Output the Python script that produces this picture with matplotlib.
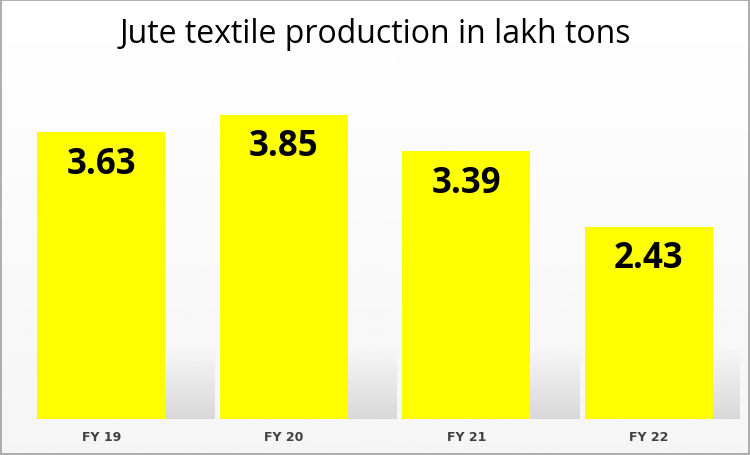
import numpy as np
import matplotlib.pyplot as plt

categories = ['FY 19', 'FY 20', 'FY 21', 'FY 22']
production = [3.63, 3.85, 3.39, 2.43]

fig = plt.figure(figsize=(7.5, 4.56), dpi=100)

# background gradient for the whole figure
bg = fig.add_axes([0, 0, 1, 1], zorder=0)
grad = np.linspace(1.0, 0.96, 256).reshape(-1, 1)
bg.imshow(grad, cmap='gray', vmin=0, vmax=1, aspect='auto', extent=[0, 1, 0, 1])
bg.set_axis_off()
fig.patches.append(plt.Rectangle((0.001, 0.002), 0.997, 0.995, transform=fig.transFigure,
                                 fill=False, edgecolor='#a0a0a0', lw=1.2))

ax = fig.add_axes([10 / 750, 36 / 456, 730 / 750, 340 / 456], zorder=1)
ax.patch.set_alpha(0)
x = np.arange(len(categories))
ax.set_xlim(-0.5, len(categories) - 0.5)
ax.set_ylim(0, 4.3)

# soft floor shadow behind each bar
shade = np.linspace(0.97, 0.80, 64).reshape(-1, 1)
for xi in x:
    ax.imshow(shade, cmap='gray', vmin=0, vmax=1, aspect='auto',
              extent=[xi + 0.2, xi + 0.62, 0, 0.9], zorder=1, alpha=0.7)

bars = ax.bar(x, production, width=0.7, color='#ffff00', zorder=2)
for xi, v in zip(x, production):
    ax.text(xi, v - 0.4, f'{v:.2f}', ha='center', va='center',
            fontsize=25, fontweight='bold', family='Open Sans', zorder=3)

ax.set_xticks(x)
ax.set_xticklabels(categories, fontsize=9, fontweight='bold', color='#404040')
ax.tick_params(length=0, pad=8)
ax.set_yticks([])
for s in ax.spines.values():
    s.set_visible(False)

fig.text(0.5, 0.925, 'Jute textile production in lakh tons', ha='center', va='center',
         fontsize=23, family='Open Sans')

fig.savefig('out.png', dpi=100)
